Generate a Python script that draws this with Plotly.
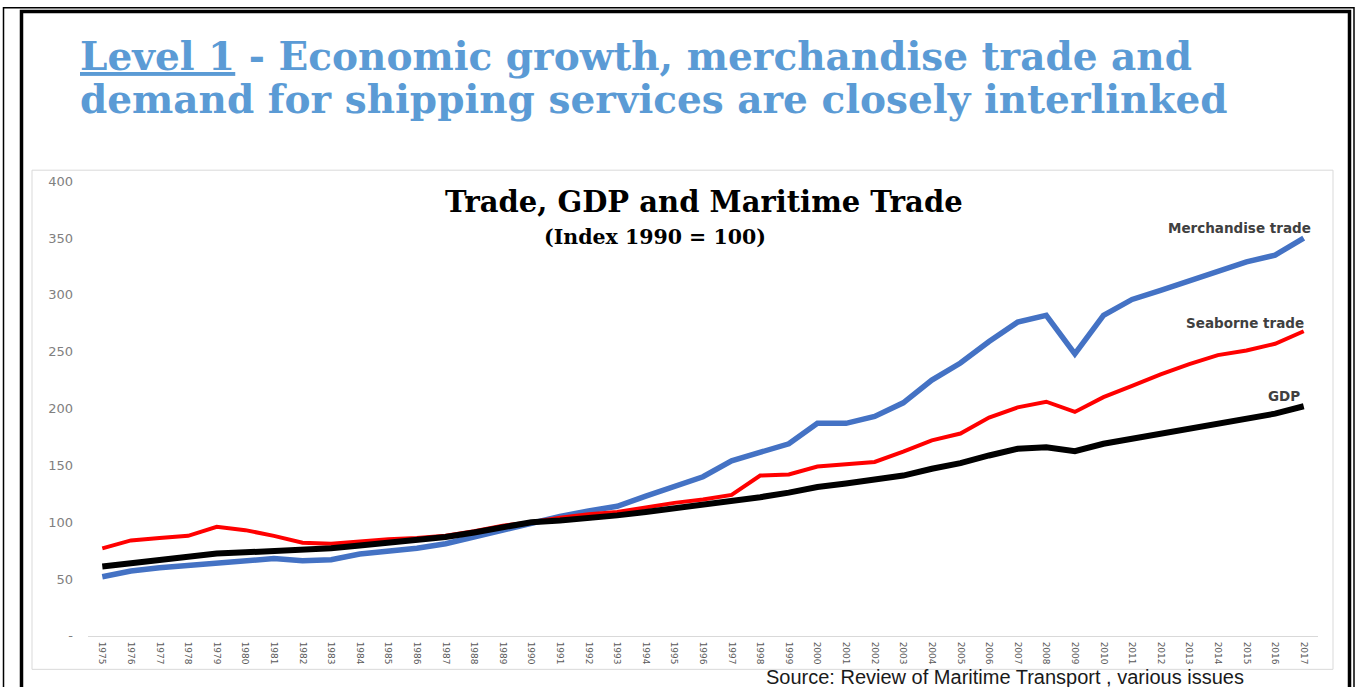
import plotly.graph_objects as go

years = list(range(1975, 2018))
merchandise = [52, 57, 60, 62, 65, 67, 68, 66, 67, 72, 74, 77, 81, 87, 94, 100,
               105, 110, 114, 123, 132, 140, 154, 161, 169, 187, 187, 193,
               205, 225, 240, 259, 276, 282, 248, 282, 296, 304, 312, 320, 329, 335, 350]
seaborne = [77, 84, 86, 88, 96, 93, 88, 82, 81, 83, 85, 86, 88, 92, 97, 100,
            104, 107, 109, 113, 117, 120, 124, 141, 142, 149, 151, 153,
            162, 172, 178, 192, 201, 206, 197, 210, 220, 230, 239, 247, 251, 257, 268]
gdp = [61, 64, 67, 70, 72.5, 73.5, 74.5, 75, 77, 79.5, 82, 84.5, 87, 91, 96, 100,
       101.5, 103.5, 106, 109, 112, 115, 119, 122, 126, 131, 134, 137,
       141, 147, 152, 158.7, 164.6, 166, 162.5, 169, 173.4, 177, 181.4, 186, 190.7, 195.5, 202]
y_ticks = [0, 50, 100, 150, 200, 250, 300, 350, 400]
y_ticktext = ["-", "50", "100", "150", "200", "250", "300", "350", "400"]

W, H = 1356, 710


def px(x):
    return x / W


def py(y):
    # y: target pixel row in the final picture
    s = (y - 7.2) / 0.9766
    return 1 - s / H


fig = go.Figure()
fig.add_trace(go.Scatter(x=years, y=merchandise, mode="lines", name="Merchandise trade",
                         line=dict(color="#4472C4", width=5.5)))
fig.add_trace(go.Scatter(x=years, y=seaborne, mode="lines", name="Seaborne trade",
                         line=dict(color="#FF0000", width=4)))
fig.add_trace(go.Scatter(x=years, y=gdp, mode="lines", name="GDP",
                         line=dict(color="#000000", width=6)))

lab_font = dict(family="DejaVu Sans", size=13.5, color="#404040")
fig.add_annotation(x=years[-1], y=merchandise[-1], text="<b>Merchandise trade</b>", showarrow=False,
                   xanchor="right", yanchor="middle", xshift=9, yshift=10, font=lab_font)
fig.add_annotation(x=years[-1], y=seaborne[-1], text="<b>Seaborne trade</b>", showarrow=False,
                   xanchor="right", yanchor="middle", xshift=2, yshift=8, font=lab_font)
fig.add_annotation(x=years[-1], y=gdp[-1], text="<b>GDP</b>", showarrow=False,
                   xanchor="right", yanchor="middle", xshift=-2, yshift=10, font=lab_font)

title_font = dict(family="DejaVu Serif", size=39, color="#5B9BD5")
fig.add_annotation(xref="paper", yref="paper", x=px(78), y=py(56), xanchor="left", yanchor="middle",
                   text="<b><u>Level 1</u> - Economic growth, merchandise trade and</b>",
                   showarrow=False, font=title_font)
fig.add_annotation(xref="paper", yref="paper", x=px(78), y=py(98.5), xanchor="left", yanchor="middle",
                   text="<b>demand for shipping services are closely interlinked</b>",
                   showarrow=False, font=title_font)

fig.add_annotation(xref="paper", yref="paper", x=px(704), y=py(202), xanchor="center", yanchor="middle",
                   text="<b>Trade, GDP and Maritime Trade</b>", showarrow=False,
                   font=dict(family="DejaVu Serif", size=29, color="#000000"))
fig.add_annotation(xref="paper", yref="paper", x=px(655), y=py(237), xanchor="center", yanchor="middle",
                   text="<b>(Index 1990 = 100)</b>", showarrow=False,
                   font=dict(family="DejaVu Serif", size=20.5, color="#000000"))

fig.add_annotation(xref="paper", yref="paper", x=px(1005), y=py(663), xanchor="center", yanchor="top",
                   text="Source: Review of Maritime Transport , various issues", showarrow=False,
                   font=dict(family="Liberation Sans", size=20, color="#1a1a1a"))

shapes = [
    dict(type="rect", xref="paper", yref="paper", x0=px(32), y0=py(668), x1=px(1333), y1=py(170),
         line=dict(color="#d9d9d9", width=1)),
    dict(type="rect", xref="paper", yref="paper", x0=px(3.5), y0=-0.05, x1=px(1354), y1=1 - 0.75 / H,
         line=dict(color="#000000", width=1.5)),
    dict(type="rect", xref="paper", yref="paper", x0=px(21.5), y0=-0.05, x1=px(1349.5), y1=1 - 4.5 / H,
         line=dict(color="#000000", width=3.5)),
]

fig.update_layout(
    width=W, height=H,
    margin=dict(l=0, r=0, t=0, b=0),
    paper_bgcolor="white", plot_bgcolor="white",
    showlegend=False,
    shapes=shapes,
    xaxis=dict(domain=[px(88), px(1318)], range=[1974.5, 2017.5], tickmode="array",
               tickvals=years, ticktext=[str(y) for y in years], tickangle=90,
               showgrid=False, zeroline=False, showline=True, linecolor="#d9d9d9", linewidth=1,
               ticks="", ticklabelstandoff=3,
               tickfont=dict(family="DejaVu Sans", size=9, color="#595959")),
    yaxis=dict(domain=[py(634.6), py(181)], range=[0, 400], tickmode="array",
               tickvals=y_ticks, ticktext=y_ticktext,
               showgrid=False, zeroline=False, showline=False, ticks="",
               ticklabelstandoff=14,
               tickfont=dict(family="DejaVu Sans", size=13, color="#808080")),
)

post = ("var d=document.getElementById('{plot_id}');"
        "d.style.position='fixed';d.style.top='0px';d.style.left='0px';"
        "document.documentElement.style.margin='0';document.body.style.margin='0';"
        "document.body.style.overflow='hidden';document.documentElement.style.overflow='hidden';")
fig.write_html("out.html", config={"displayModeBar": False}, post_script=post)
